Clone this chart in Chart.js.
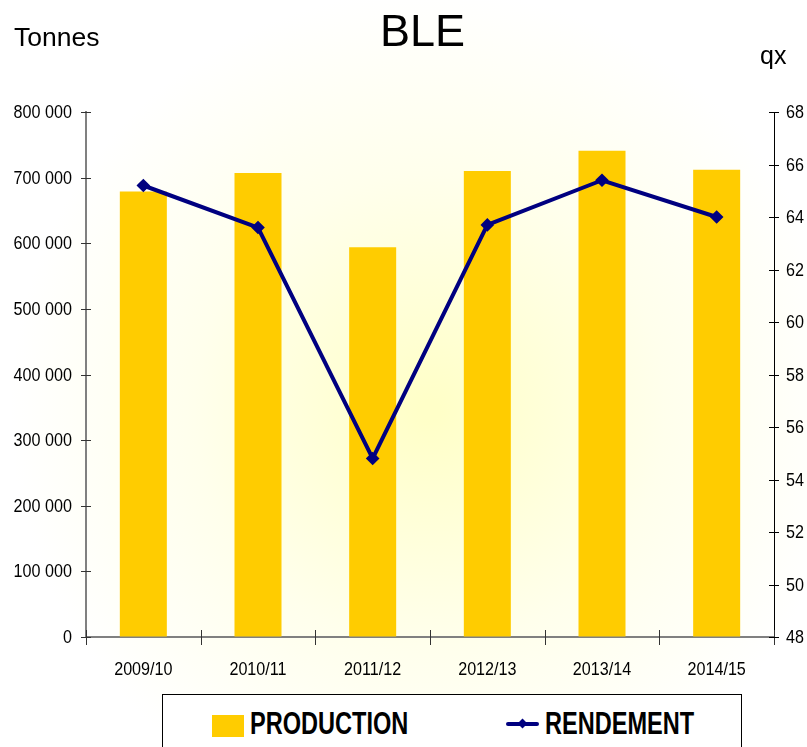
<!DOCTYPE html>
<html>
<head>
<meta charset="utf-8">
<script src="https://cdn.jsdelivr.net/npm/chart.js@4"></script>
<style>
  body { margin: 0; background: #fff; }
  #wrap { position: relative; width: 807px; height: 747px; overflow: hidden; font-family: "Liberation Sans", Arial, sans-serif; }
  #myChart { position: absolute; left: 0; top: 0; }
  .lbl { position: absolute; color: #000; line-height: 1; white-space: nowrap; }
  #legendBox { position: absolute; left: 162px; top: 694px; width: 578px; height: 70px; border: 1px solid #000; background: #fff; }
  .legText { position: absolute; font-weight: bold; font-size: 31px; line-height: 1; white-space: nowrap; transform: scaleX(0.76); transform-origin: left top; }
</style>
</head>
<body>
<div id="wrap">
  <canvas id="myChart" width="807" height="747"></canvas>
  <div class="lbl" style="left:14px; top:24px; font-size:26.5px;">Tonnes</div>
  <div class="lbl" style="left:380px; top:8px; font-size:45px;">BLE</div>
  <div class="lbl" style="left:760px; top:43px; font-size:25px;">qx</div>
  <div id="legendBox">
    <span style="position:absolute; left:49px; top:20px; width:32px; height:22px; background:#FFCC00;"></span>
    <div class="legText" style="left:87px; top:13px;">PRODUCTION</div>
    <span style="position:absolute; left:343px; top:27px; width:33px; height:4px; border-radius:2px; background:#000080;"></span>
    <span style="position:absolute; left:356px; top:25px; width:7px; height:7px; background:#000080; transform:rotate(45deg);"></span>
    <div class="legText" style="left:382px; top:13px;">RENDEMENT</div>
  </div>
</div>
<script>
const campaigns = ["2009/10", "2010/11", "2011/12", "2012/13", "2013/14", "2014/15"];
const productionTonnes = [679000, 707000, 594000, 710000, 741000, 712000];
const rendementQx = [65.2, 63.6, 54.8, 63.7, 65.4, 64.0];

const canvas = document.getElementById("myChart");
const ctx = canvas.getContext("2d");

function spaceThousands(v) {
  return String(v).replace(/\B(?=(\d{3})+(?!\d))/g, " ");
}

// the tick labels of the original are a condensed face, squeeze Liberation Sans
function drawNarrow(c, text, px, py, align) {
  c.save();
  c.translate(px, py);
  c.scale(0.85, 1);
  c.textAlign = align;
  c.textBaseline = "middle";
  c.fillText(text, 0, 0);
  c.restore();
}

function crossTick(c, x1, y1, x2, y2) {
  c.beginPath();
  c.moveTo(x1, y1);
  c.lineTo(x2, y2);
  c.stroke();
}

// pale yellow glow behind the plot
const backgroundGlow = {
  id: "backgroundGlow",
  beforeDraw(chart) {
    const c = chart.ctx;
    const g = c.createRadialGradient(430, 410, 10, 430, 410, 420);
    g.addColorStop(0, "#FFFFC8");
    g.addColorStop(0.55, "#FFFFEC");
    g.addColorStop(1, "#FFFFFF");
    c.save();
    c.fillStyle = g;
    c.fillRect(0, 0, chart.width, chart.height);
    c.restore();
  },
};

// ticks crossing the axes and the narrow labels
const axisDressing = {
  id: "axisDressing",
  afterDraw(chart) {
    const c = chart.ctx;
    const { x, y, y2 } = chart.scales;
    const area = chart.chartArea;
    c.save();
    c.font = "19px 'Liberation Sans', Arial, sans-serif";
    c.fillStyle = "#000";
    c.lineWidth = 1;

    c.strokeStyle = "#333";
    y.ticks.forEach((t) => {
      const py = Math.round(y.getPixelForValue(t.value)) + 0.5;
      crossTick(c, area.left - 5, py, area.left + 5, py);
      drawNarrow(c, spaceThousands(t.value), 72, py, "right");
    });

    const centers = campaigns.map((_, i) => x.getPixelForValue(i));
    const bounds = [area.left];
    for (let i = 1; i < centers.length; i++) bounds.push((centers[i - 1] + centers[i]) / 2);
    bounds.push(area.right);
    bounds.forEach((bx) => {
      const px = Math.round(bx) + 0.5;
      crossTick(c, px, area.bottom - 7, px, area.bottom + 8);
    });
    campaigns.forEach((lab, i) => drawNarrow(c, lab, centers[i], 670, "center"));

    c.strokeStyle = "#000";
    y2.ticks.forEach((t) => {
      const py = Math.round(y2.getPixelForValue(t.value)) + 0.5;
      crossTick(c, area.right - 5, py, area.right + 5, py);
      drawNarrow(c, String(t.value), 786, py, "left");
    });
    c.restore();
  },
};

new Chart(ctx, {
  type: "bar",
  data: {
    labels: campaigns,
    datasets: [
      {
        type: "line",
        label: "RENDEMENT",
        data: rendementQx,
        yAxisID: "y2",
        borderColor: "#000080",
        backgroundColor: "#000080",
        borderWidth: 4,
        pointStyle: "rectRot",
        pointRadius: 4,
        tension: 0,
        order: 0,
      },
      {
        label: "PRODUCTION",
        data: productionTonnes,
        yAxisID: "y",
        backgroundColor: "#FFCC00",
        categoryPercentage: 1,
        barPercentage: 0.41,
        order: 1,
      },
    ],
  },
  options: {
    responsive: false,
    animation: false,
    layout: { padding: { top: 112, bottom: 55, left: 0, right: 0 } },
    plugins: {
      legend: { display: false },
      tooltip: { enabled: false },
    },
    scales: {
      x: {
        grid: { offset: true, drawOnChartArea: false, drawTicks: false },
        border: { color: "#808080", width: 2 },
        ticks: { display: false },
        afterFit: (s) => { s.height = 55; },
      },
      y: {
        position: "left",
        min: 0,
        max: 800000,
        grid: { drawOnChartArea: false, drawTicks: false },
        border: { color: "#808080", width: 2 },
        ticks: { stepSize: 100000, display: false },
        afterFit: (s) => { s.width = 86; },
      },
      y2: {
        position: "right",
        min: 48,
        max: 68,
        grid: { drawOnChartArea: false, drawTicks: false },
        border: { color: "#000", width: 1 },
        ticks: { stepSize: 2, display: false },
        afterFit: (s) => { s.width = 33; },
      },
    },
  },
  plugins: [backgroundGlow, axisDressing],
});
</script>
</body>
</html>
